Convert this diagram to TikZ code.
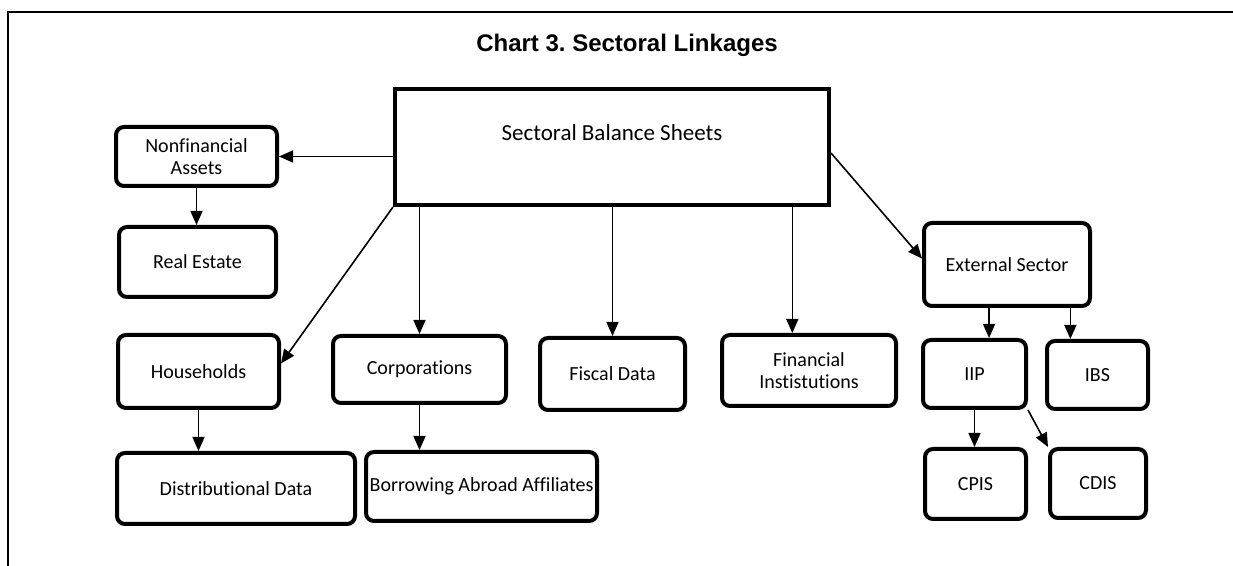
\documentclass[tikz,border=0pt]{standalone}
\usepackage{fontspec}
\setmainfont{Carlito}[Ligatures=NoCommon]
\newfontfamily\titlefont{Liberation Sans}
\usetikzlibrary{arrows.meta}
\frenchspacing
\tikzset{
  sector/.style={draw,line width=2pt,rounded corners=4pt,align=center,inner sep=0pt,font=\fontsize{10}{11}\selectfont},
  link/.style={line width=0.8pt,-{Triangle[length=7pt,width=6pt]}}
}
\newcommand{\sector}[6]{\node[sector,minimum width=#4*0.5pt,minimum height=#5*0.5pt] (#1) at (#2,#3) {#6};}
\newcommand{\link}[2]{\draw[link] (#1) -- (#2);}

\begin{document}
\begin{tikzpicture}[x=0.5pt,y=-0.5pt]
    \useasboundingbox (0,0) rectangle (1233,566);
    \draw[line width=1pt] (8,566) -- (8,12) -- (1233,12);
    \node[anchor=base,font=\titlefont\bfseries\fontsize{12}{14}\selectfont] (title) at (627,52) {Chart 3. Sectoral Linkages};
    \node[draw,line width=2pt,minimum width=434*0.5pt,minimum height=116*0.5pt,text height=8pt,text depth=14pt,font=\fontsize{11.5}{13}\selectfont] (sbs) at (612,147) {Sectoral Balance Sheets};
    \sector{na}{196.5}{156.5}{161}{59}{Nonfinancial\\Assets}
    \sector{re}{197.5}{262}{157}{70}{Real Estate}
    \sector{hh}{198.5}{371.5}{161}{73}{Households}
    \sector{dd}{236}{488.5}{238}{71}{Distributional Data}
    \sector{corp}{419.5}{369.5}{173}{67}{Corporations}
    \sector{bor}{481.5}{486.5}{231}{69}{Borrowing Abroad Affiliates}
    \sector{fisc}{612.5}{374}{145}{72}{Fiscal Data}
    \sector{fin}{809}{370.5}{174}{71}{Financial\\Instistutions}
    \sector{ext}{1007}{264.5}{166}{83}{External Sector}
    \sector{iip}{974.5}{374}{103}{68}{IIP}
    \sector{ibs}{1097.5}{375}{101}{68}{IBS}
    \sector{cpis}{975.5}{484}{101}{70}{CPIS}
    \sector{cdis}{1098}{483.5}{96}{69}{CDIS}
    % sectoral balance sheets to the sectors
    \link{sbs.west |- na.east}{na.east}
    \link{sbs.south west}{[yshift=4pt]hh.east}
    \link{sbs.south -| corp.north}{corp.north}
    \link{sbs.south -| fisc.north}{fisc.north}
    \link{sbs.south -| fin.114}{fin.114}
    \link{[yshift=-3pt]sbs.east}{[yshift=3pt]ext.west}
    % second level
    \link{na.south}{na.south |- re.north}
    \link{hh.south}{hh.south |- dd.north}
    \link{corp.south}{corp.south |- bor.north}
    \link{ext.south -| iip.68}{iip.68}
    \link{ext.south -| ibs.127}{ibs.127}
    \link{iip.south}{iip.south |- cpis.north}
    \link{iip.south east}{cdis.north west}
\end{tikzpicture}
\end{document}
